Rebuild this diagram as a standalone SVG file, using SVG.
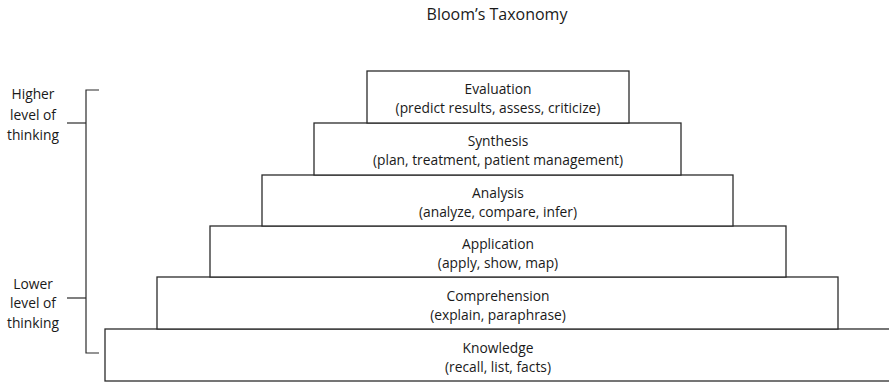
<svg xmlns="http://www.w3.org/2000/svg" width="889" height="384" viewBox="0 0 889 384">
  <style>
    .box { fill: #ffffff; stroke: #2b2b2b; stroke-width: 1.3; }
    .lbl { font-family: "Open Sans", "Liberation Sans", sans-serif; font-size: 13.8px; fill: #1a1a1a; text-anchor: middle; }
    .title { font-family: "Open Sans", "Liberation Sans", sans-serif; font-size: 16px; fill: #1a1a1a; text-anchor: middle; }
    .brk { fill: none; stroke: #2b2b2b; stroke-width: 1.2; }
  </style>
  <rect width="889" height="384" fill="#ffffff"/>

  <text class="title" x="497" y="20">Bloom’s Taxonomy</text>

  <!-- pyramid levels, bottom to top -->
  <g id="knowledge">
    <rect class="box" x="105" y="329" width="790" height="52"/>
    <text class="lbl" x="498" y="353">Knowledge</text>
    <text class="lbl" x="498" y="372">(recall, list, facts)</text>
  </g>
  <g id="comprehension">
    <rect class="box" x="157" y="277" width="681" height="52"/>
    <text class="lbl" x="498" y="301">Comprehension</text>
    <text class="lbl" x="498" y="320">(explain, paraphrase)</text>
  </g>
  <g id="application">
    <rect class="box" x="210" y="226" width="576" height="51"/>
    <text class="lbl" x="498" y="249">Application</text>
    <text class="lbl" x="498" y="268">(apply, show, map)</text>
  </g>
  <g id="analysis">
    <rect class="box" x="262" y="175" width="471" height="51"/>
    <text class="lbl" x="498" y="198">Analysis</text>
    <text class="lbl" x="498" y="217">(analyze, compare, infer)</text>
  </g>
  <g id="synthesis">
    <rect class="box" x="314" y="123" width="367" height="52"/>
    <text class="lbl" x="498" y="146">Synthesis</text>
    <text class="lbl" x="498" y="165">(plan, treatment, patient management)</text>
  </g>
  <g id="evaluation">
    <rect class="box" x="367" y="71" width="262" height="52"/>
    <text class="lbl" x="498" y="94">Evaluation</text>
    <text class="lbl" x="498" y="113">(predict results, assess, criticize)</text>
  </g>

  <!-- thinking-level bracket -->
  <g id="connectors">
    <path class="brk" d="M99,90 H86 V353 H99"/>
    <path class="brk" d="M67,123 H86"/>
    <path class="brk" d="M67,298 H86"/>
  </g>
  <g id="higher-label">
    <text class="lbl" x="33" y="99">Higher</text>
    <text class="lbl" x="33" y="120">level of</text>
    <text class="lbl" x="33" y="140">thinking</text>
  </g>
  <g id="lower-label">
    <text class="lbl" x="33" y="289">Lower</text>
    <text class="lbl" x="33" y="308">level of</text>
    <text class="lbl" x="33" y="328">thinking</text>
  </g>
</svg>
